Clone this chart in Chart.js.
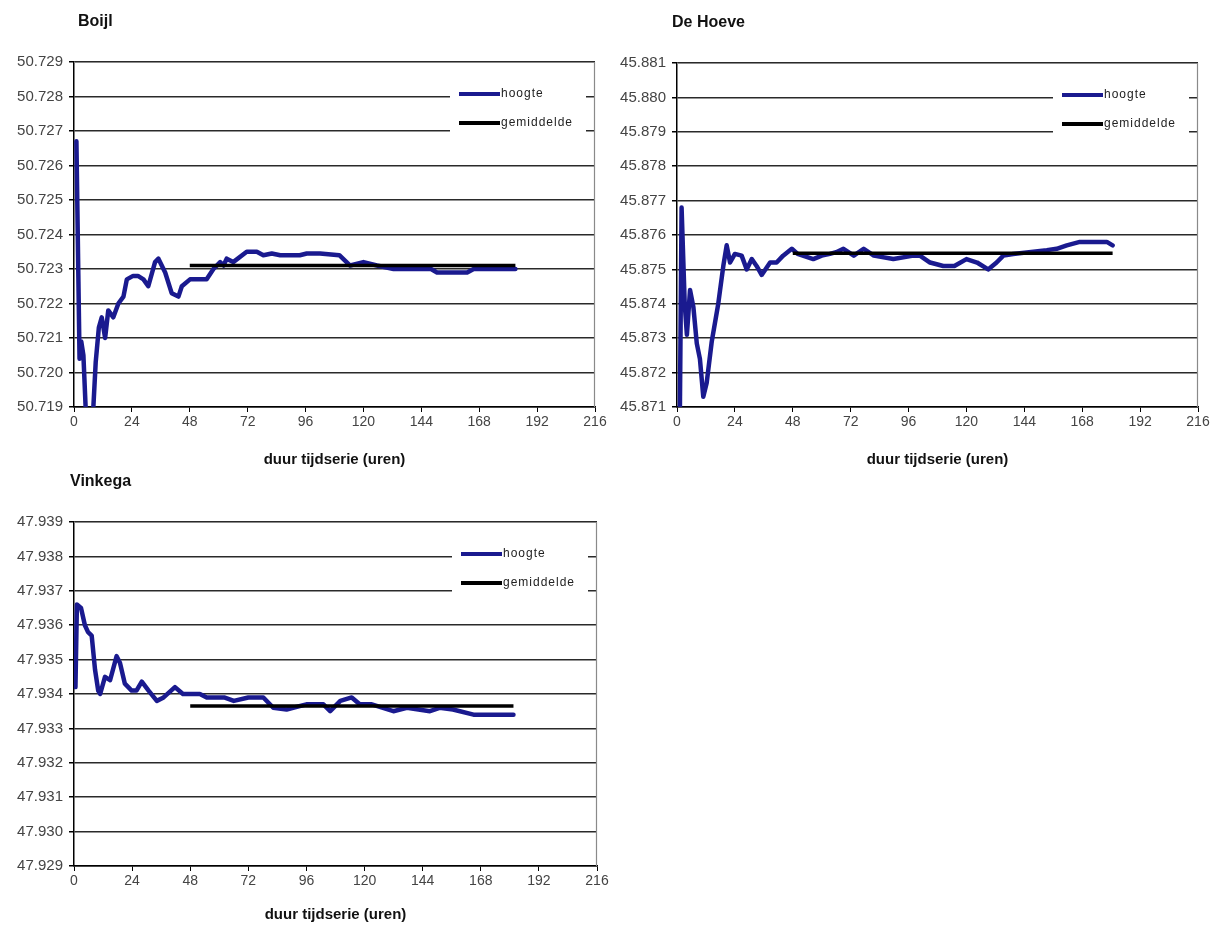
<!DOCTYPE html>
<html>
<head>
<meta charset="utf-8">
<script src="https://cdn.jsdelivr.net/npm/chart.js@4.4.0/dist/chart.umd.min.js"></script>
<style>
  body { margin: 0; background: #fff; width: 1213px; height: 925px; overflow: hidden; position: relative; }
  canvas { position: absolute; }
  #boijlChart { left: 0; top: 0; }
  #hoeveChart { left: 605px; top: 0; }
  #vinkegaChart { left: 0; top: 465px; }
</style>
</head>
<body>
<canvas id="boijlChart" width="610" height="470"></canvas>
<canvas id="hoeveChart" width="608" height="470"></canvas>
<canvas id="vinkegaChart" width="612" height="460"></canvas>
<script>
// x-as (uren) — gedeeld door alle drie de grafieken
var xTicks = [0, 24, 48, 72, 96, 120, 144, 168, 192, 216];
var seriesLabels = ['hoogte', 'gemiddelde'];

// Boijl
var boijlRange = [50.719, 50.729];
var boijlHours = [1.0, 2.3, 3.0, 3.9, 5.0, 7.8, 9.0, 10.3, 11.5, 12.9, 14.2, 16.3, 18.4, 20.5, 21.9, 24.5, 26.5, 28.8, 30.8, 33.6, 35.0, 37.8, 40.5, 43.3, 44.7, 48.1, 55, 57.8, 60.6, 62, 63.3, 66, 71.6, 75.8, 78.5, 82, 85.5, 93.6, 96.5, 102, 110, 114.5, 120, 125.6, 132.5, 140.8, 148, 150.5, 157.4, 163, 165.7, 183];
var boijlHoogte = [50.7267, 50.7204, 50.7209, 50.7205, 50.7187, 50.7187, 50.7203, 50.7213, 50.7216, 50.7210, 50.7218, 50.7216, 50.7220, 50.7222, 50.7227, 50.7228, 50.7228, 50.7227, 50.7225, 50.7232, 50.7233, 50.7229, 50.7223, 50.7222, 50.7225, 50.7227, 50.7227, 50.7230, 50.7232, 50.7231, 50.7233, 50.7232, 50.7235, 50.7235, 50.7234, 50.72345, 50.7234, 50.7234, 50.72345, 50.72345, 50.7234, 50.7231, 50.7232, 50.7231, 50.7230, 50.7230, 50.7230, 50.7229, 50.7229, 50.7229, 50.7230, 50.7230];
var boijlGemHours = [48, 183];
var boijlGem = [50.7231, 50.7231];

// De Hoeve
var hoeveRange = [45.871, 45.881];
var hoeveHours = [0.3, 1.2, 1.9, 3.2, 4.1, 5.4, 6.8, 8.2, 9.5, 10.9, 12.3, 14.4, 17.1, 19.2, 20.6, 22.0, 24, 26.8, 28.9, 31, 33, 35.1, 38.6, 41.3, 44, 47.6, 50, 56.5, 60, 63.4, 66, 69, 73.3, 77.4, 81.6, 89.7, 98, 100.7, 104.9, 110.4, 115, 120, 124.4, 129, 132.5, 135.3, 139.4, 153.3, 157.4, 161.6, 167, 178.2, 180.6];
var hoeveHoogte = [45.8706, 45.8709, 45.8768, 45.8740, 45.8731, 45.8744, 45.8739, 45.87285, 45.8724, 45.8713, 45.8717, 45.8729, 45.8740, 45.8751, 45.8757, 45.8752, 45.87545, 45.8754, 45.8750, 45.8753, 45.8751, 45.87484, 45.8752, 45.8752, 45.8754, 45.8756, 45.87545, 45.8753, 45.8754, 45.87545, 45.8755, 45.8756, 45.8754, 45.8756, 45.8754, 45.8753, 45.8754, 45.8754, 45.8752, 45.8751, 45.8751, 45.8753, 45.8752, 45.8750, 45.8752, 45.8754, 45.87545, 45.87556, 45.8756, 45.8757, 45.8758, 45.8758, 45.8757];
var hoeveGemHours = [48, 180.6];
var hoeveGem = [45.87547, 45.87547];

// Vinkega
var vinkegaRange = [47.929, 47.939];
var vinkegaHours = [0.6, 1.2, 2.9, 4.5, 5.8, 7.3, 8.7, 10.0, 10.8, 12.8, 14.9, 17.6, 19.0, 21.0, 23.8, 25.8, 28.0, 30.8, 34.2, 37.0, 41.7, 45, 52, 54.8, 57.7, 62, 66, 72, 78.2, 82.3, 87.8, 90.5, 96, 103, 105.8, 110, 114.7, 118, 123, 131.9, 137.5, 147, 151, 156.5, 165, 176, 181.5];
var vinkegaHoogte = [47.9342, 47.9366, 47.9365, 47.9360, 47.9358, 47.9357, 47.9347, 47.9341, 47.9340, 47.9345, 47.9344, 47.9351, 47.9349, 47.9343, 47.9341, 47.9341, 47.93436, 47.9341, 47.9338, 47.9339, 47.9342, 47.9340, 47.9340, 47.9339, 47.9339, 47.9339, 47.9338, 47.9339, 47.9339, 47.9336, 47.93355, 47.9336, 47.9337, 47.9337, 47.9335, 47.9338, 47.9339, 47.9337, 47.9337, 47.9335, 47.9336, 47.9335, 47.9336, 47.93355, 47.9334, 47.9334, 47.9334];
var vinkegaGemHours = [48, 181.5];
var vinkegaGem = [47.93365, 47.93365];

var blue = '#1a1a8f';
var fontFam = 'Arial, "Liberation Sans", sans-serif';

function zip(xs, ys) {
  return xs.map(function(x, i) { return { x: x, y: ys[i] }; });
}

// titel, grijze rand en legenda binnen het plotvlak (Excel-stijl)
var excelLook = {
  id: 'excelLook',
  beforeDatasetsDraw: function(chart) {
    var a = chart.chartArea, ctx = chart.ctx;
    ctx.save();
    ctx.strokeStyle = '#8a8a8a';
    ctx.lineWidth = 1.2;
    ctx.beginPath();
    ctx.moveTo(a.left, a.top + 0.5);
    ctx.lineTo(a.right - 0.5, a.top + 0.5);
    ctx.lineTo(a.right - 0.5, a.bottom);
    ctx.stroke();
    ctx.restore();
  },
  afterDraw: function(chart, args, opts) {
    var a = chart.chartArea, ctx = chart.ctx;
    ctx.save();
    // titel
    ctx.fillStyle = '#111';
    ctx.font = 'bold 16px ' + fontFam;
    ctx.textBaseline = 'middle';
    ctx.textAlign = 'left';
    ctx.fillText(opts.title, a.left + opts.titleDx, opts.titleY);
    // legenda
    ctx.fillStyle = '#fff';
    ctx.fillRect(a.right - 145, a.top + 14, 136, 64);
    ctx.font = '12px ' + fontFam;
    ctx.letterSpacing = '1px';
    chart.data.datasets.forEach(function(ds, i) {
      var y = a.top + 32 + i * 29;
      ctx.strokeStyle = ds.borderColor;
      ctx.lineWidth = 4;
      ctx.beginPath();
      ctx.moveTo(a.right - 136, y);
      ctx.lineTo(a.right - 95, y);
      ctx.stroke();
      ctx.fillStyle = '#222';
      ctx.fillText(ds.label, a.right - 94, y);
    });
    ctx.restore();
  }
};

function makeChart(id, title, titleDx, titleY, range, hours, hoogte, gemHours, gem, padTop, xHeight) {
  var ctx = document.getElementById(id).getContext('2d');
  return new Chart(ctx, {
    type: 'line',
    data: {
      datasets: [{
        label: seriesLabels[0],
        data: zip(hours, hoogte),
        borderColor: blue,
        borderWidth: 4.5,
        pointRadius: 0,
        borderJoinStyle: 'round',
        borderCapStyle: 'round',
        order: 1
      }, {
        label: seriesLabels[1],
        data: zip(gemHours, gem),
        borderColor: '#000',
        borderWidth: 3.5,
        pointRadius: 0,
        order: 0
      }]
    },
    options: {
      responsive: false,
      animation: false,
      layout: { padding: { top: padTop, right: 15, left: 0, bottom: 0 } },
      plugins: {
        legend: { display: false },
        tooltip: { enabled: false },
        excelLook: { title: title, titleDx: titleDx, titleY: titleY }
      },
      scales: {
        x: {
          type: 'linear',
          min: xTicks[0],
          max: xTicks[xTicks.length - 1],
          afterFit: function(s) { s.height = xHeight; },
          ticks: { stepSize: xTicks[1] - xTicks[0], maxRotation: 0, padding: 2, color: '#444', font: { family: fontFam, size: 14 } },
          grid: { drawOnChartArea: false, tickLength: 5, color: '#000' },
          border: { color: '#000', width: 1.5 },
          title: { display: true, text: 'duur tijdserie (uren)', color: '#111', font: { family: fontFam, size: 15, weight: 'bold' }, padding: { top: 2, bottom: 1 } }
        },
        y: {
          min: range[0],
          max: range[1],
          afterFit: function(s) { s.width = id === 'hoeveChart' ? 72 : 74; },
          ticks: { count: 11, padding: 6, color: '#444', font: { family: fontFam, size: 15 },
            callback: function(v) { return v.toFixed(3); } },
          grid: { color: '#2a2a2a', lineWidth: 1.5, tickLength: 5, tickColor: '#000' },
          border: { color: '#000', width: 1.5 }
        }
      }
    },
    plugins: [excelLook]
  });
}

makeChart('boijlChart', 'Boijl', 4, 22, boijlRange, boijlHours, boijlHoogte, boijlGemHours, boijlGem, 62, 63);
makeChart('hoeveChart', 'De Hoeve', -5, 23, hoeveRange, hoeveHours, hoeveHoogte, hoeveGemHours, hoeveGem, 63, 63);
makeChart('vinkegaChart', 'Vinkega', -4, 17, vinkegaRange, vinkegaHours, vinkegaHoogte, vinkegaGemHours, vinkegaGem, 57, 59);
</script>
</body>
</html>
